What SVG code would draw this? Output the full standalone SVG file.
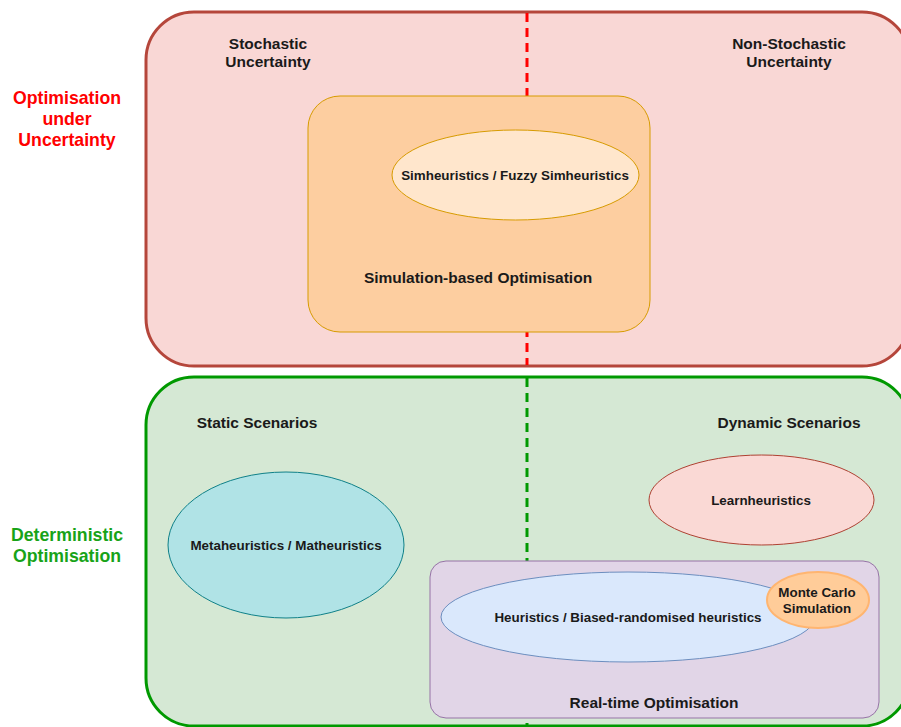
<svg xmlns="http://www.w3.org/2000/svg" width="901" height="727" viewBox="0 0 901 727">
<style>
text{font-family:"Liberation Sans",Arial,Helvetica,sans-serif;font-weight:bold;fill:#1a1a1a;text-anchor:middle}
.lbl{font-size:15.5px}
.sm{font-size:13.4px}
.side{font-size:17.7px}
.dash{fill:none;stroke-width:3;stroke-dasharray:9 6}
</style>
<rect width="901" height="727" fill="#ffffff"/>
<g id="uncertainty">
<rect x="146" y="12" width="764" height="354" rx="48" ry="48" fill="#f9d7d5" stroke="#b5463b" stroke-width="3"/>
<text class="lbl" x="268" y="49">Stochastic</text>
<text class="lbl" x="268" y="67">Uncertainty</text>
<text class="lbl" x="789" y="49">Non-Stochastic</text>
<text class="lbl" x="789" y="67">Uncertainty</text>
</g>
<g id="deterministic">
<rect x="146" y="377" width="764" height="349" rx="48" ry="48" fill="#d5e8d4" stroke="#009900" stroke-width="3"/>
<text class="lbl" x="257" y="428">Static Scenarios</text>
<text class="lbl" x="789" y="428">Dynamic Scenarios</text>
</g>
<g id="connectors">
<line class="dash" x1="527" y1="13" x2="527" y2="365" stroke="#ff0000"/>
<line class="dash" x1="527" y1="378" x2="527" y2="727" stroke="#009900"/>
</g>
<g id="label-uncertainty">
<text class="side" x="67" y="104" style="fill:#ff0000">Optimisation</text>
<text class="side" x="67" y="125" style="fill:#ff0000">under</text>
<text class="side" x="67" y="146" style="fill:#ff0000">Uncertainty</text>
</g>
<g id="label-deterministic">
<text class="side" x="67" y="541" style="fill:#18a318">Deterministic</text>
<text class="side" x="67" y="562" style="fill:#18a318">Optimisation</text>
</g>
<g id="simopt">
<rect x="308" y="96" width="342" height="236" rx="32" ry="32" fill="#fdcea0" stroke="#d79b00" stroke-width="1"/>
<text class="lbl" x="478" y="283">Simulation-based Optimisation</text>
</g>
<g id="simheuristics">
<ellipse cx="515.5" cy="175" rx="123.5" ry="45" fill="#ffe6cc" stroke="#d79b00" stroke-width="1"/>
<text class="sm" x="515" y="180">Simheuristics / Fuzzy Simheuristics</text>
</g>
<g id="metaheuristics">
<ellipse cx="286" cy="545" rx="118" ry="73" fill="#b0e3e6" stroke="#0e8088" stroke-width="1"/>
<text class="sm" x="286" y="550">Metaheuristics / Matheuristics</text>
</g>
<g id="learnheuristics">
<ellipse cx="761.5" cy="500" rx="112.5" ry="45" fill="#fad9d5" stroke="#ae4132" stroke-width="1"/>
<text class="sm" x="761" y="505">Learnheuristics</text>
</g>
<g id="realtime">
<rect x="430" y="561" width="449" height="157" rx="16" ry="16" fill="#e1d5e7" stroke="#9673a6" stroke-width="1"/>
<text class="lbl" x="654" y="708">Real-time Optimisation</text>
</g>
<g id="heuristics">
<ellipse cx="628" cy="617" rx="187" ry="45" fill="#dae8fc" stroke="#6c8ebf" stroke-width="1"/>
<text class="sm" x="628" y="622">Heuristics / Biased-randomised heuristics</text>
</g>
<g id="montecarlo">
<ellipse cx="818" cy="600" rx="51" ry="28" fill="#ffcc99" stroke="#ffb570" stroke-width="2"/>
<text class="sm" x="817" y="597">Monte Carlo</text>
<text class="sm" x="817" y="613">Simulation</text>
</g>
</svg>
